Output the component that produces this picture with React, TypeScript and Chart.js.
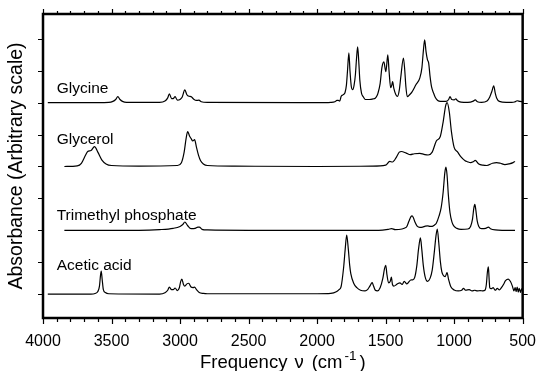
import React, { useEffect, useRef } from 'react';
import { Chart, registerables } from 'chart.js';

Chart.register(...registerables);

const FONT = '"Liberation Sans", Arial, Helvetica, sans-serif';

// Tick labels / axes
const xTickValues = [4000, 3500, 3000, 2500, 2000, 1500, 1000, 500];
const yTickValues = [0, 1, 2, 3, 4, 5, 6, 7, 8];

// Series names, vertical offsets and label lift (arbitrary units)
const compoundNames = ['Glycine', 'Glycerol', 'Trimethyl phosphate', 'Acetic acid'];
const baselineOffsets = [6, 4, 2, 0];
const labelLift = [0.44, 0.85, 0.47, 0.88];

// Spectra: [wavenumber cm-1, absorbance above baseline]
const glycine: [number, number][] = [
  [3965, 0], [3700, 0], [3520, 0.01], [3490, 0.04], [3470, 0.1], [3454, 0.19], [3438, 0.1], [3420, 0.04],
  [3390, 0.01], [3150, 0.01], [3110, 0.05], [3090, 0.15], [3078, 0.28], [3062, 0.13], [3050, 0.13],
  [3036, 0.19], [3020, 0.08], [3000, 0.1], [2985, 0.17], [2965, 0.4], [2950, 0.25], [2935, 0.2],
  [2920, 0.19], [2900, 0.11], [2880, 0.07], [2862, 0.08], [2845, 0.03], [2800, 0.01], [2000, 0],
  [1900, 0.01], [1870, 0.03], [1855, 0.07], [1845, 0.07], [1835, 0.05], [1824, 0.2], [1808, 0.25],
  [1796, 0.32], [1786, 0.55], [1778, 1.0], [1768, 1.56], [1760, 1.0], [1750, 0.5], [1740, 0.41],
  [1730, 0.55], [1720, 0.9], [1712, 1.4], [1704, 1.75], [1696, 1.3], [1688, 0.7], [1676, 0.3],
  [1662, 0.18], [1648, 0.1], [1620, 0.1], [1590, 0.12], [1576, 0.14], [1565, 0.2], [1555, 0.31],
  [1540, 0.6], [1527, 1.1], [1513, 1.28], [1498, 0.97], [1484, 1.5], [1475, 1.0], [1463, 0.47],
  [1455, 0.55], [1449, 0.66], [1440, 0.45], [1425, 0.25], [1413, 0.2], [1400, 0.4], [1388, 0.85],
  [1370, 1.4], [1360, 1.0], [1352, 0.5], [1342, 0.19], [1325, 0.25], [1307, 0.34], [1279, 0.56],
  [1250, 0.78], [1235, 1.1], [1225, 1.6], [1215, 1.97], [1205, 1.6], [1195, 1.35], [1186, 1.25],
  [1175, 0.8], [1165, 0.5], [1150, 0.3], [1137, 0.16], [1120, 0.07], [1100, 0.04], [1060, 0.04],
  [1040, 0.1], [1030, 0.19], [1018, 0.1], [1000, 0.09], [988, 0.12], [975, 0.06], [950, 0.02],
  [900, 0.01], [860, 0.05], [846, 0.09], [830, 0.03], [800, 0.01], [760, 0.05], [740, 0.18],
  [725, 0.35], [711, 0.53], [700, 0.3], [690, 0.15], [670, 0.04], [620, 0.01], [580, 0.01],
  [560, 0.02], [540, 0.06], [520, 0.04], [500, 0.03],
];

const glycerol: [number, number][] = [
  [3844, 0], [3750, 0.02], [3720, 0.1], [3690, 0.35], [3674, 0.47], [3650, 0.5], [3624, 0.62],
  [3600, 0.45], [3570, 0.2], [3540, 0.08], [3500, 0.03], [3300, 0.01], [3020, 0.03], [2990, 0.12],
  [2970, 0.45], [2955, 0.9], [2944, 1.09], [2930, 0.95], [2920, 0.88], [2907, 0.8], [2894, 0.84],
  [2880, 0.6], [2865, 0.35], [2850, 0.18], [2830, 0.08], [2800, 0.03], [2600, 0.01], [2000, 0],
  [1600, 0.01], [1500, 0.04], [1470, 0.16], [1450, 0.14], [1420, 0.3], [1400, 0.45], [1385, 0.47],
  [1350, 0.42], [1320, 0.37], [1290, 0.4], [1250, 0.41], [1220, 0.38], [1190, 0.36], [1160, 0.45],
  [1130, 0.8], [1101, 0.94], [1080, 1.4], [1062, 1.9], [1051, 2.0], [1035, 1.7], [1020, 1.1],
  [1000, 0.6], [974, 0.45], [950, 0.3], [920, 0.18], [903, 0.15], [880, 0.12], [860, 0.15],
  [846, 0.19], [820, 0.08], [790, 0.04], [761, 0.03], [720, 0.1], [690, 0.12], [662, 0.1],
  [630, 0.06], [600, 0.08], [570, 0.12], [556, 0.16],
];

const trimethylPhosphate: [number, number][] = [
  [3844, 0], [3300, 0], [3150, 0.02], [3050, 0.06], [3000, 0.12], [2980, 0.18], [2965, 0.26],
  [2945, 0.15], [2920, 0.05], [2890, 0.06], [2870, 0.1], [2859, 0.1], [2840, 0.03], [2800, 0.01],
  [2500, 0], [1550, 0], [1480, 0.03], [1456, 0.05], [1430, 0.02], [1380, 0.04], [1360, 0.07],
  [1345, 0.12], [1330, 0.28], [1315, 0.43], [1307, 0.45], [1298, 0.4], [1285, 0.25], [1270, 0.13],
  [1250, 0.09], [1230, 0.1], [1210, 0.13], [1194, 0.14], [1175, 0.12], [1160, 0.12], [1145, 0.16],
  [1130, 0.22], [1110, 0.45], [1095, 0.7], [1080, 1.2], [1068, 1.8], [1060, 1.98], [1052, 1.75],
  [1042, 1.1], [1030, 0.55], [1015, 0.25], [1000, 0.12], [980, 0.06], [950, 0.03], [900, 0.04],
  [880, 0.12], [866, 0.35], [856, 0.7], [849, 0.81], [842, 0.65], [832, 0.3], [820, 0.12],
  [800, 0.05], [770, 0.06], [750, 0.1], [735, 0.05], [700, 0.01], [650, 0], [556, 0],
];

const aceticAcid: [number, number][] = [
  [3965, 0], [3650, 0], [3620, 0.02], [3600, 0.08], [3588, 0.25], [3580, 0.6], [3575, 0.72],
  [3568, 0.45], [3560, 0.15], [3545, 0.05], [3520, 0.01], [3150, 0], [3110, 0.04], [3090, 0.12],
  [3078, 0.22], [3062, 0.14], [3050, 0.14], [3036, 0.19], [3020, 0.11], [3005, 0.2], [2995, 0.4],
  [2987, 0.47], [2975, 0.3], [2965, 0.25], [2950, 0.32], [2937, 0.34], [2920, 0.22], [2905, 0.2],
  [2894, 0.22], [2880, 0.14], [2860, 0.05], [2830, 0.02], [2800, 0.01], [2000, 0.01], [1900, 0.02],
  [1860, 0.07], [1840, 0.14], [1825, 0.23], [1806, 0.85], [1795, 1.4], [1784, 1.85], [1772, 1.4],
  [1762, 0.9], [1754, 0.64], [1733, 0.34], [1710, 0.2], [1683, 0.12], [1650, 0.1], [1630, 0.15],
  [1615, 0.25], [1598, 0.36], [1588, 0.25], [1575, 0.12], [1560, 0.1], [1540, 0.2], [1520, 0.5],
  [1508, 0.8], [1499, 0.9], [1490, 0.6], [1478, 0.35], [1466, 0.4], [1458, 0.53], [1450, 0.3],
  [1440, 0.25], [1420, 0.3], [1410, 0.33], [1395, 0.35], [1380, 0.3], [1364, 0.4], [1345, 0.32],
  [1317, 0.44], [1300, 0.45], [1287, 0.53], [1272, 0.9], [1260, 1.4], [1246, 1.76], [1236, 1.4],
  [1225, 0.9], [1212, 0.55], [1194, 0.4], [1175, 0.5], [1160, 0.75], [1145, 1.3], [1133, 1.8],
  [1123, 2.04], [1112, 1.6], [1100, 1.0], [1090, 0.7], [1081, 0.6], [1065, 0.55], [1052, 0.67],
  [1040, 0.45], [1024, 0.23], [1000, 0.13], [970, 0.1], [945, 0.12], [932, 0.18], [915, 0.12],
  [890, 0.14], [870, 0.1], [850, 0.12], [830, 0.1], [810, 0.11], [790, 0.1], [775, 0.12],
  [765, 0.3], [757, 0.7], [750, 0.85], [745, 0.5], [740, 0.2], [730, 0.17], [715, 0.2], [700, 0.12],
  [685, 0.18], [670, 0.13], [655, 0.2], [640, 0.3], [625, 0.42], [605, 0.47], [590, 0.4],
  [575, 0.25], [564, 0.1], [555, 0.2], [548, 0.08], [540, 0.22], [532, 0.06], [525, 0.18],
  [515, 0.05], [508, 0.16], [500, 0.1],
];

const spectra = [glycine, glycerol, trimethylPhosphate, aceticAcid];

const framePlugin = {
  id: 'irFrame',
  afterDraw(chart: any) {
    const { ctx, chartArea, scales } = chart;
    const { left, right, top, bottom } = chartArea;
    const xs = scales.x;
    const ys = scales.y;
    ctx.save();
    ctx.strokeStyle = '#000';
    ctx.fillStyle = '#000';

    // x ticks (top and bottom), minor every 100
    ctx.lineWidth = 1.2;
    ctx.beginPath();
    for (let v = xs.min; v <= xs.max + 0.01; v += 100) {
      const px = Math.round(xs.getPixelForValue(v)) + 0.5;
      const major = xTickValues.includes(Math.round(v));
      ctx.moveTo(px, bottom);
      ctx.lineTo(px, bottom + (major ? 6 : 4));
      ctx.moveTo(px, top);
      ctx.lineTo(px, top - (major ? 5 : 3));
    }
    // y ticks left and right
    yTickValues.forEach((v) => {
      const py = Math.round(ys.getPixelForValue(v)) + 0.5;
      ctx.moveTo(left, py);
      ctx.lineTo(left - 5, py);
      ctx.moveTo(right, py);
      ctx.lineTo(right + 5, py);
    });
    ctx.stroke();

    // frame
    ctx.lineWidth = 2.5;
    ctx.lineJoin = 'miter';
    ctx.strokeRect(left, top, right - left, bottom - top);

    // spectrum labels
    ctx.font = `15.5px ${FONT}`;
    ctx.textAlign = 'left';
    ctx.textBaseline = 'middle';
    compoundNames.forEach((name, i) => {
      ctx.fillText(name, xs.getPixelForValue(3900), ys.getPixelForValue(baselineOffsets[i] + labelLift[i]));
    });

    // y title
    ctx.save();
    ctx.font = `19.5px ${FONT}`;
    ctx.translate(17, (top + bottom) / 2);
    ctx.rotate(-Math.PI / 2);
    ctx.textAlign = 'center';
    ctx.textBaseline = 'middle';
    ctx.fillText('Absorbance (Arbitrary scale)', 0, 0);
    ctx.restore();

    // x title with superscript, assembled from pieces
    const big = `18.5px ${FONT}`;
    const small = `13.5px ${FONT}`;
    const pieces: { t: string; f: string; gap: number; dy: number }[] = [
      { t: 'Frequency', f: big, gap: 0, dy: 0 },
      { t: '\u03bd', f: big, gap: 7, dy: 0 },
      { t: '(cm', f: big, gap: 8, dy: 0 },
      { t: '-1', f: small, gap: 2, dy: -8 },
      { t: ')', f: big, gap: 3, dy: 0 },
    ];
    ctx.textBaseline = 'alphabetic';
    ctx.textAlign = 'left';
    let total = 0;
    const widths = pieces.map((p) => {
      ctx.font = p.f;
      const w = ctx.measureText(p.t).width;
      total += w + p.gap;
      return w;
    });
    let x0 = (left + right) / 2 - total / 2;
    const base = 368;
    pieces.forEach((p, i) => {
      x0 += p.gap;
      ctx.font = p.f;
      ctx.fillText(p.t, x0, base + p.dy);
      x0 += widths[i];
    });

    ctx.restore();
  },
};

export default function App() {
  const canvasRef = useRef<HTMLCanvasElement | null>(null);

  useEffect(() => {
    if (!canvasRef.current) return;
    const chart = new Chart(canvasRef.current, {
      type: 'line',
      data: {
        datasets: spectra.map((s, i) => ({
          label: compoundNames[i],
          data: s.map(([nu, a]) => ({ x: nu, y: a + baselineOffsets[i] })),
          borderColor: '#000',
          borderWidth: 1.2,
          pointRadius: 0,
          fill: false,
          cubicInterpolationMode: 'monotone' as const,
        })),
      },
      options: {
        responsive: false,
        animation: false,
        devicePixelRatio: 1,
        layout: { padding: { left: 43, right: 13, top: 14, bottom: 0 } },
        plugins: {
          legend: { display: false },
          tooltip: { enabled: false },
          title: { display: false },
        },
        scales: {
          x: {
            type: 'linear',
            position: 'bottom',
            min: 500,
            max: 4000,
            reverse: true,
            grid: { display: false, drawTicks: false },
            border: { display: false },
            afterBuildTicks: (s: any) => {
              s.ticks = xTickValues.map((v) => ({ value: v }));
            },
            afterFit: (s: any) => {
              s.height = 53;
            },
            ticks: {
              color: '#000',
              font: { family: FONT, size: 16 },
              padding: 14,
              autoSkip: false,
              maxRotation: 0,
              callback: (v: any) => String(v),
            },
          },
          y: {
            type: 'linear',
            display: false,
            min: -0.75,
            max: 8.78,
          },
        },
      },
      plugins: [framePlugin],
    });
    return () => chart.destroy();
  }, []);

  return (
    <div style={{ position: 'fixed', left: 0, top: 0, width: 550, height: 371, background: '#fff' }}>
      <canvas ref={canvasRef} width={550} height={371} style={{ width: 550, height: 371, display: 'block' }} />
    </div>
  );
}
